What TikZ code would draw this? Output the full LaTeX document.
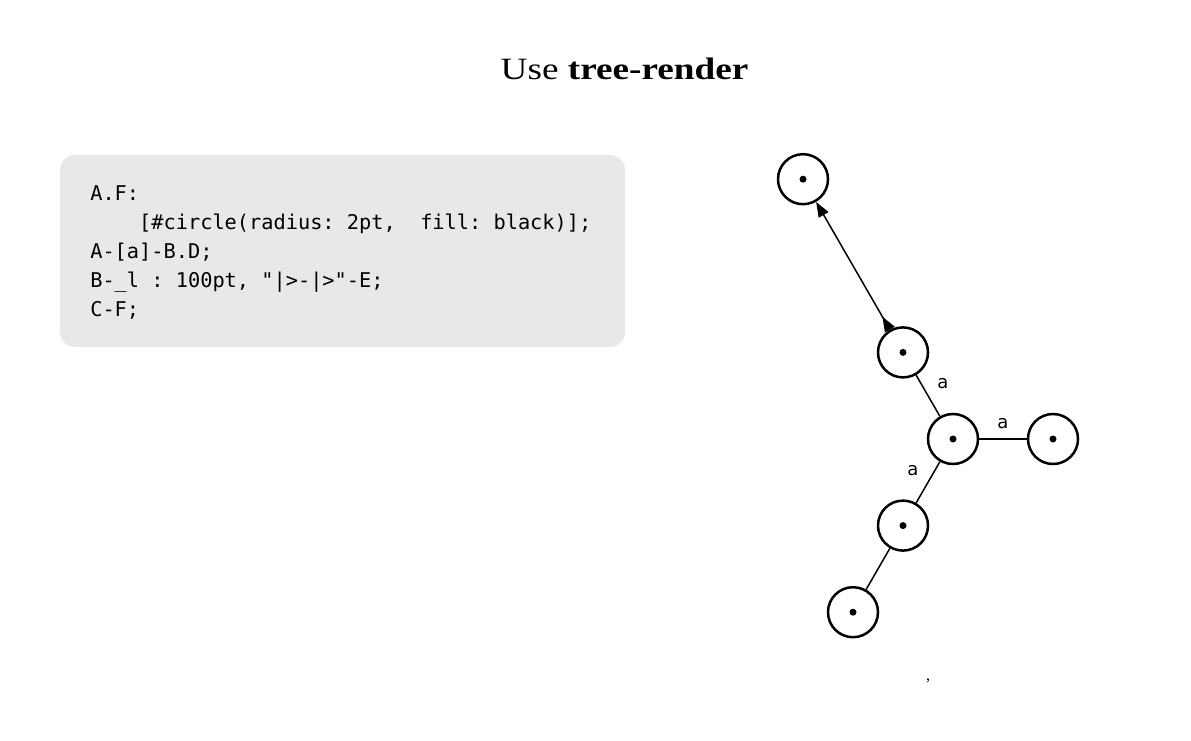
\documentclass[tikz,border=0pt]{standalone}
\usepackage{fontspec}
\setmonofont{DejaVu Sans Mono}
\newfontfamily\titlefont[FakeStretch=1.2]{Liberation Serif}
\newfontfamily\commafont{Liberation Serif}
\newfontfamily\labelfont{DejaVu Sans}
\usetikzlibrary{calc, arrows.meta, positioning}
\definecolor{codebg}{gray}{0.91}

\begin{document}
\begin{tikzpicture}[x=1pt, y=1pt, >=Latex,
  vtx/.style={draw, circle, line width=2.5pt, minimum size=50pt, inner sep=0pt, path picture={\fill (path picture bounding box.center) circle (3.5pt);}},
  edge/.style={line width=1.5pt},
  lbl/.style={font=\labelfont\fontsize{18}{20}\selectfont, inner sep=0pt},
  codebox/.style={fill=codebg, rounded corners=15pt, minimum width=565pt, minimum height=192pt, inner sep=0pt},
  codetext/.style={font=\ttfamily\fontsize{20.3}{29}\selectfont, align=left, inner sep=0pt}]
\useasboundingbox (0,0) rectangle (1191,740);
\node[font=\titlefont\fontsize{31}{38}\selectfont, anchor=base] (title) at (624.5,660) {Use \textbf{tree-render}};
% code block
\node[codebox] (code) at (342.5,489) {};
\node[codetext, anchor=north west] (codetxt) at ([xshift=30.3pt, yshift=-30.7pt]code.north west) {A.F:\\
\hphantom{xxxx}[\#circle(radius: 2pt,\ \ fill: black)];\\
A-[a]-B.D;\\
B-\_l : 100pt, "|>-|>"-E;\\
C-F;};
% tree
\node[vtx] (hub) at (953,301) {};
\node[vtx] (upper) at ($(hub)+(120:100)$) {};
\node[vtx] (side) at ($(hub)+(0:100)$) {};
\node[vtx] (lower) at ($(hub)+(240:100)$) {};
\node[vtx] (foot) at ($(lower)+(240:100)$) {};
\node[vtx] (tip) at ($(upper)+(120:200)$) {};
\draw[edge] (upper) -- node[lbl, xshift=15pt, yshift=12pt] {a} (hub);
\draw[edge] (hub) -- node[lbl, yshift=15pt] {a} (side);
\draw[edge] (hub) -- node[lbl, xshift=-15pt, yshift=12pt] {a} (lower);
\draw[edge] (lower) -- (foot);
\draw[edge, {Triangle[reversed, length=15pt, width=11pt]}-{Triangle[length=15pt, width=11pt]}] (upper) -- (tip);
\node[font=\commafont\fontsize{16}{18}\selectfont] (comma) at (928,59) {,};
\end{tikzpicture}
\end{document}
